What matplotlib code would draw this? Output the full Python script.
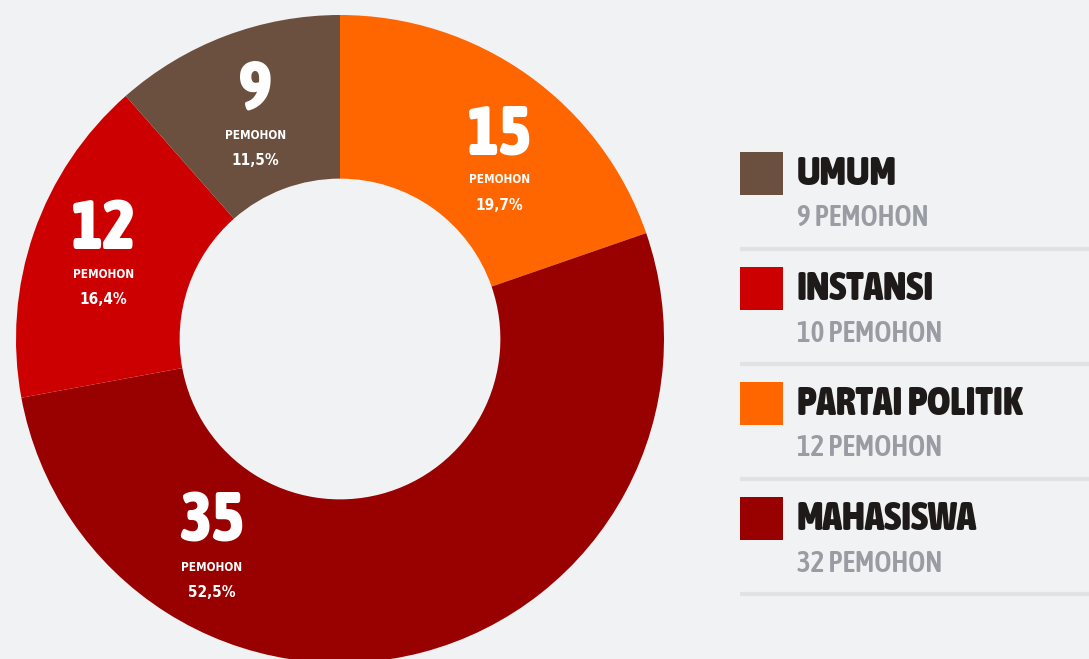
import matplotlib
matplotlib.use("Agg")
import matplotlib.pyplot as plt
import numpy as np
from matplotlib import font_manager

# data
kategori = ['PARTAI POLITIK', 'MAHASISWA', 'INSTANSI', 'UMUM']
jumlah = [15, 35, 12, 9]
persen = [19.7, 52.4, 16.4, 11.5]
persen_label = ['19,7%', '52,5%', '16,4%', '11,5%']
warna = ['#ff6600', '#990000', '#cc0000', '#6b4f3f']

legend_judul = ['UMUM', 'INSTANSI', 'PARTAI POLITIK', 'MAHASISWA']
legend_sub = ['9 PEMOHON', '10 PEMOHON', '12 PEMOHON', '32 PEMOHON']
legend_warna = ['#6b4f3f', '#cc0000', '#ff6600', '#990000']


def berat_angka(w):
    if isinstance(w, int):
        return w
    return font_manager.weight_dict.get(str(w), 400)


def cari_font(target):
    pilihan = []
    for f in font_manager.fontManager.ttflist:
        if f.style != 'normal':
            continue
        nama = f.name + ' ' + str(f.stretch) + ' ' + f.fname
        if 'Condensed' in nama or 'Narrow' in nama or 'condensed' in nama:
            if 'Italic' in f.fname:
                continue
            pilihan.append((abs(berat_angka(f.weight) - target), f.fname))
    if pilihan:
        pilihan.sort()
        return font_manager.FontProperties(fname=pilihan[0][1])
    return font_manager.FontProperties(family='DejaVu Sans', weight='bold' if target > 500 else 'normal')


fp_heavy = cari_font(900)
fp_bold = cari_font(700)
fp_semi = cari_font(600)

W, H = 1089, 659
fig = plt.figure(figsize=(W / 100, H / 100), dpi=100)
fig.patch.set_facecolor('#f1f2f4')

# donut, center (340, 339) px, radius 324 px
cx, cy, r = 340, 339, 324
ax = fig.add_axes([(cx - r) / W, (H - cy - r) / H, 2 * r / W, 2 * r / H])

wedges, _ = ax.pie(persen, colors=warna, startangle=90, counterclock=False,
                   radius=1, wedgeprops=dict(width=0.505, linewidth=0))
ax.set_xlim(-1, 1)
ax.set_ylim(-1, 1)
ax.set_aspect('equal')
ax.axis('off')

# label spot per slice: (angle clockwise from top in degrees, radius)
label_spots = [(38.5, 0.79), (214.5, 0.70), (294, 0.80), (341, 0.80)]
for i, (ang, rr) in enumerate(label_spots):
    t = np.deg2rad(ang)
    x, y = rr * np.sin(t), rr * np.cos(t)
    ax.text(x, y + 0.012, str(jumlah[i]), color='white', fontproperties=fp_heavy,
            fontsize=50, ha='center', va='center')
    ax.text(x, y - 0.127, 'PEMOHON', color='white', fontproperties=fp_bold,
            fontsize=8.5, ha='center', va='center')
    ax.text(x, y - 0.205, persen_label[i], color='white', fontproperties=fp_bold,
            fontsize=11, ha='center', va='center')

# legend
lg = fig.add_axes([0, 0, 1, 1])
lg.set_xlim(0, W)
lg.set_ylim(H, 0)
lg.axis('off')
for i in range(4):
    top = 152 + i * 115
    lg.add_patch(plt.Rectangle((740, top), 43, 43, color=legend_warna[i], lw=0))
    lg.text(797, top + 22, legend_judul[i], color='#1e1a1a', fontproperties=fp_heavy,
            fontsize=28.5, ha='left', va='center')
    lg.text(797, top + 66, legend_sub[i], color='#9a9ca3', fontproperties=fp_semi,
            fontsize=21, ha='left', va='center')
    lg.plot([740, W], [top + 97, top + 97], color='#e1e2e4', lw=3, solid_capstyle='butt')

fig.savefig('out.png', dpi=100, facecolor=fig.get_facecolor())
